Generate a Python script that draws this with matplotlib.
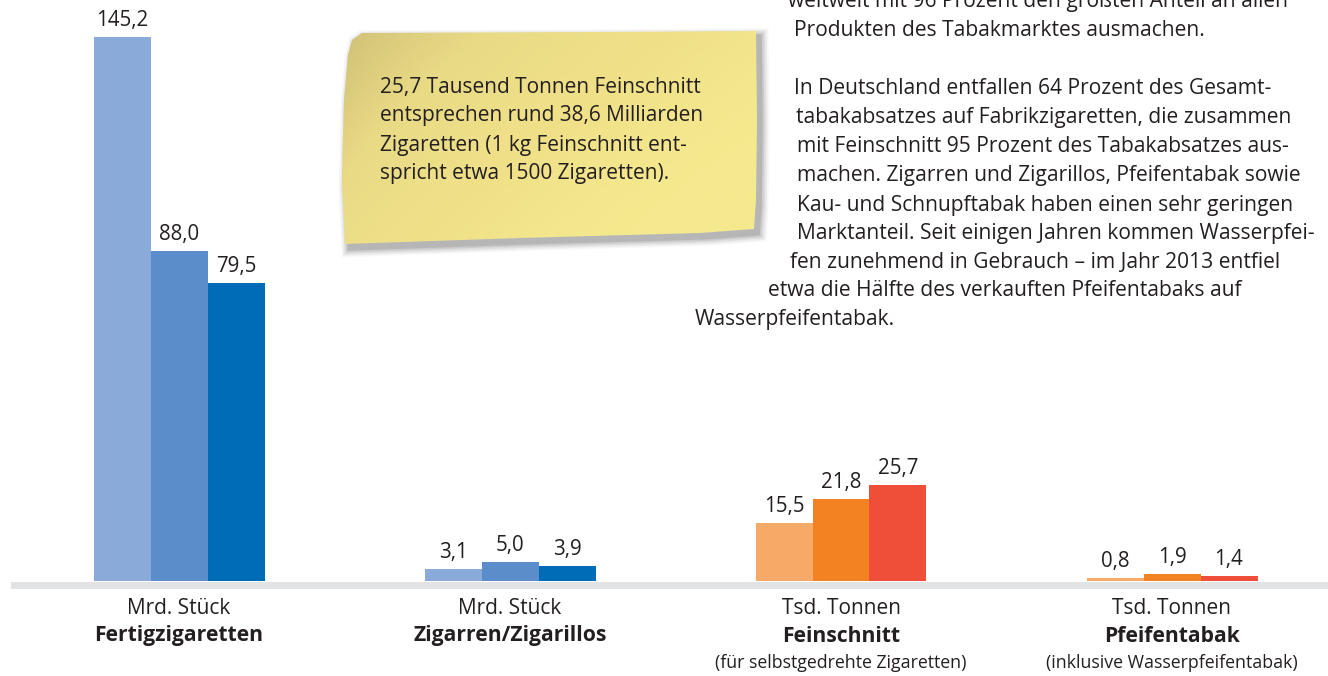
import numpy as np
import matplotlib.pyplot as plt
from matplotlib.patches import Polygon
from matplotlib.colors import LinearSegmentedColormap

plt.rcParams['font.family'] = ['Open Sans', 'DejaVu Sans']

# data
groups = ['Fertigzigaretten', 'Zigarren/Zigarillos', 'Feinschnitt', 'Pfeifentabak']
units = ['Mrd. Stück', 'Mrd. Stück', 'Tsd. Tonnen', 'Tsd. Tonnen']
notes = ['', '', '(für selbstgedrehte Zigaretten)', '(inklusive Wasserpfeifentabak)']
values = [
    [145.2, 88.0, 79.5],
    [3.1, 5.0, 3.9],
    [15.5, 21.8, 25.7],
    [0.8, 1.9, 1.4],
]
blues = ['#8aaad9', '#5b8dcb', '#006cb7']
oranges = ['#f7a967', '#f38322', '#ef4f38']
group_colors = [blues, blues, oranges, oranges]

note_lines = [
    '25,7 Tausend Tonnen Feinschnitt',
    'entsprechen rund 38,6 Milliarden',
    'Zigaretten (1 kg Feinschnitt ent-',
    'spricht etwa 1500 Zigaretten).',
]
para_lines = [
    ('weltweit mit 96 Prozent den größten Anteil an allen', 788, 1),
    ('Produkten des Tabakmarktes ausmachen.', 794, 30),
    ('In Deutschland entfallen 64 Prozent des Gesamt-', 794, 89),
    ('tabakabsatzes auf Fabrikzigaretten, die zusammen', 796, 118),
    ('mit Feinschnitt 95 Prozent des Tabakabsatzes aus-', 797, 147),
    ('machen. Zigarren und Zigarillos, Pfeifentabak sowie', 797, 176),
    ('Kau- und Schnupftabak haben einen sehr geringen', 797, 205),
    ('Marktanteil. Seit einigen Jahren kommen Wasserpfei-', 797, 233),
    ('fen zunehmend in Gebrauch – im Jahr 2013 entfiel', 790, 262),
    ('etwa die Hälfte des verkauften Pfeifentabaks auf', 768, 291),
    ('Wasserpfeifentabak.', 695, 320),
]

W, H = 1328, 676
fig = plt.figure(figsize=(W / 100, H / 100), dpi=100, facecolor='white')

# bar axes: baseline at y=581px, 3.746 px per unit, group spacing 331 px
px_unit = 3.746
ytop = 581 / px_unit
ax = fig.add_axes([0, (H - 581) / H, 1, 581 / H])
ax.set_ylim(0, ytop)
ax.set_xlim(-179 / 331, (W - 179) / 331)
ax.axis('off')

bw = 57 / 331
text_c = '#231f20'
for i, (vals, cols) in enumerate(zip(values, group_colors)):
    for j, v in enumerate(vals):
        x = i + (j - 1) * bw
        ax.bar(x, v, width=bw, color=cols[j], linewidth=0, zorder=2)
        ax.annotate(f'{v:.1f}'.replace('.', ','), xy=(x, v), xytext=(0, 6),
                    textcoords='offset pixels', ha='center', va='bottom',
                    fontsize=14.8, color=text_c)
    ax.annotate(units[i], xy=(i, 0), xycoords=('data', 'axes fraction'),
                xytext=(0, -28), textcoords='offset pixels',
                ha='center', va='center', fontsize=15, color=text_c)
    ax.annotate(groups[i], xy=(i, 0), xycoords=('data', 'axes fraction'),
                xytext=(0, -55), textcoords='offset pixels',
                ha='center', va='center', fontsize=15.2, fontweight='bold', color=text_c)
    if notes[i]:
        ax.annotate(notes[i], xy=(i, 0), xycoords=('data', 'axes fraction'),
                    xytext=(0, -82), textcoords='offset pixels',
                    ha='center', va='center', fontsize=12.8, color=text_c)

# grey baseline band
ov = fig.add_axes([0, 0, 1, 1], zorder=-1)
ov.set_xlim(0, W)
ov.set_ylim(H, 0)
ov.axis('off')
ov.add_patch(plt.Rectangle((11, 582), W - 11, 7, color='#e2e3e5', lw=0))

# sticky note
top = fig.add_axes([0, 0, 1, 1], zorder=3)
top.set_xlim(0, W)
top.set_ylim(H, 0)
top.axis('off')
note_xy = np.array([
    (362, 33), (600, 32), (756, 31), (757, 120), (756, 200), (754, 229),
    (700, 233), (520, 238), (345, 244), (342, 180), (344, 100), (348, 55), (352, 40),
])
cx, cy = note_xy.mean(axis=0)
for k, a in enumerate([0.04, 0.06, 0.08, 0.11, 0.14]):
    grow = 8 - k * 1.6
    pts = note_xy.copy().astype(float)
    pts[:, 0] = cx + (pts[:, 0] - cx) * (1 + grow / 210) + 4
    pts[:, 1] = cy + (pts[:, 1] - cy) * (1 + grow / 105) + 5
    top.add_patch(Polygon(pts, closed=True, color='#3a3a3a', alpha=a, lw=0))
clip = Polygon(note_xy, closed=True, facecolor='none', lw=0)
top.add_patch(clip)
gx, gy = np.meshgrid(np.linspace(0, 1, 200), np.linspace(0, 1, 100))
grad = np.clip(0.55 * gx + 0.45 * gy + 0.25 * np.sqrt(gx), 0, 1)
cmap = LinearSegmentedColormap.from_list('note', ['#cdbd74', '#e9da86', '#f0e189', '#f5e98e'])
im = top.imshow(grad, cmap=cmap, extent=(340, 760, 246, 30), aspect='auto', zorder=1)
im.set_clip_path(clip)
for k, line in enumerate(note_lines):
    top.text(380, 87 + k * 29, line, fontsize=15, color=text_c, va='center', ha='left', zorder=2)

# paragraph text
for line, x, y in para_lines:
    top.text(x, y, line, fontsize=15.1, color=text_c, va='center', ha='left')

fig.savefig('out.png', dpi=100, facecolor='white')
